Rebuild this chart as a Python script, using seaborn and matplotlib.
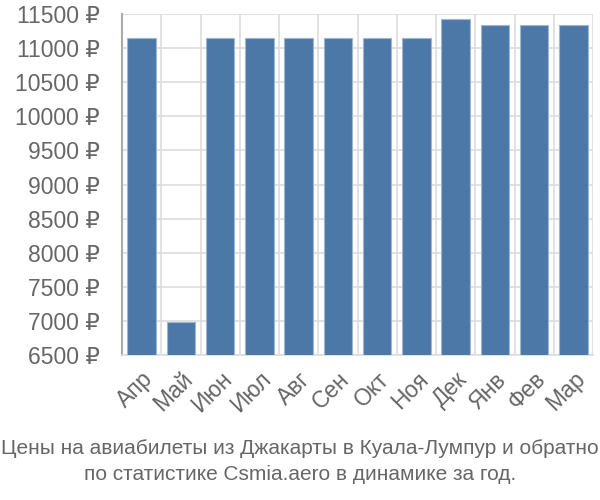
import matplotlib
matplotlib.use("Agg")
import matplotlib.pyplot as plt
import seaborn as sns
import pandas as pd
import numpy as np
from matplotlib.ticker import FixedLocator, NullFormatter

months = ["Апр", "Май", "Июн", "Июл", "Авг", "Сен", "Окт", "Ноя", "Дек", "Янв", "Фев", "Мар"]
prices = [11150, 6990, 11150, 11150, 11150, 11150, 11150, 11150, 11430, 11335, 11335, 11335]
yticks = [6500, 7000, 7500, 8000, 8500, 9000, 9500, 10000, 10500, 11000, 11500]
caption = ["Цены на авиабилеты из Джакарты в Куала-Лумпур и обратно",
           "по статистике Csmia.aero в динамике за год."]

sns.set_theme(style="white")
plt.rcParams['font.family'] = ['Liberation Sans', 'DejaVu Sans']

df = pd.DataFrame({"month": months, "price": prices})

fig = plt.figure(figsize=(6, 5), dpi=100)
ax = fig.add_axes([122/600, 1 - 355/500, (593 - 122)/600, (355 - 14)/500])

sns.barplot(data=df, x="month", y="price", ax=ax, color="#4c78a8", saturation=1,
            width=0.72, edgecolor="#9fb6d1", linewidth=0.8, zorder=3)

ax.set_ylim(6500, 11500)
ax.set_xlim(-0.5, len(months) - 0.5)
ax.set_yticks(yticks)
ax.set_yticklabels([f"{v} ₽" for v in yticks], fontsize=16.5, color="#666666")
ax.set_xticks(range(len(months)))
ax.set_xticklabels(months, rotation=45, ha="right", rotation_mode="anchor",
                   fontsize=16.5, color="#666666")
ax.tick_params(axis="x", which="major", length=0, pad=9)
ax.xaxis.set_minor_locator(FixedLocator(np.arange(-0.5, len(months), 1.0)))
ax.xaxis.set_minor_formatter(NullFormatter())
ax.tick_params(axis="x", which="minor", length=13, color="#dddddd", width=1.2)
ax.tick_params(axis="y", which="major", length=14, color="#dddddd", width=1.2, pad=2)
ax.grid(True, axis="y", which="major", color="#dddddd", linewidth=1.2, zorder=0)
ax.grid(True, axis="x", which="minor", color="#dddddd", linewidth=1.2, zorder=0)
ax.set_axisbelow(True)
ax.set_xlabel("")
ax.set_ylabel("")
for s in ["top", "right"]:
    ax.spines[s].set_visible(False)
ax.spines["left"].set_color("#aaaaaa")
ax.spines["left"].set_linewidth(1.5)
ax.spines["bottom"].set_color("#dddddd")
ax.spines["bottom"].set_linewidth(1.2)

fig.text(0.5, 1 - 448/500, caption[0], ha="center", va="center", fontsize=15,
         color="#666666")
fig.text(0.5, 1 - 474/500, caption[1], ha="center", va="center", fontsize=15,
         color="#666666")

fig.savefig("out.png", dpi=100)
